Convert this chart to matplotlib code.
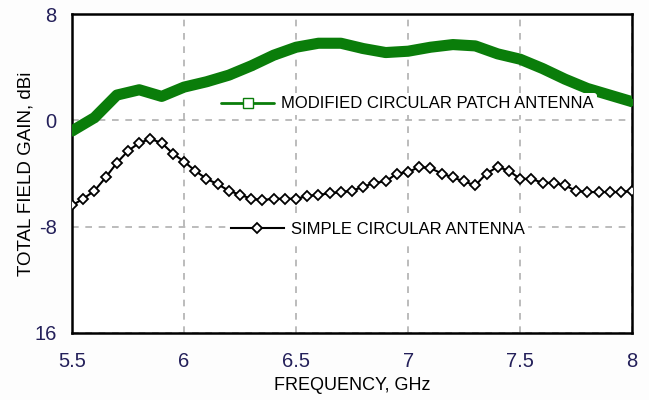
import matplotlib
matplotlib.use("Agg")
import matplotlib.pyplot as plt

plt.rcParams["font.family"] = ["Liberation Sans", "DejaVu Sans"]

# Modified circular patch antenna (green, squares)
freq_mod = [5.5, 5.6, 5.7, 5.8, 5.9, 6.0, 6.1, 6.2, 6.3, 6.4, 6.5, 6.6, 6.7,
            6.8, 6.9, 7.0, 7.1, 7.2, 7.3, 7.4, 7.5, 7.6, 7.7, 7.8, 7.9, 8.0]
gain_mod = [-0.8, 0.2, 1.9, 2.3, 1.8, 2.5, 2.9, 3.4, 4.1, 4.9, 5.5, 5.8, 5.8,
            5.4, 5.1, 5.2, 5.5, 5.7, 5.6, 5.0, 4.6, 3.9, 3.1, 2.4, 1.9, 1.4]

# Simple circular antenna (black, diamonds), one point every 0.05 GHz
freq_simple = [5.50, 5.55, 5.60, 5.65, 5.70, 5.75, 5.80, 5.85, 5.90, 5.95,
               6.00, 6.05, 6.10, 6.15, 6.20, 6.25, 6.30, 6.35, 6.40, 6.45,
               6.50, 6.55, 6.60, 6.65, 6.70, 6.75, 6.80, 6.85, 6.90, 6.95,
               7.00, 7.05, 7.10, 7.15, 7.20, 7.25, 7.30, 7.35, 7.40, 7.45,
               7.50, 7.55, 7.60, 7.65, 7.70, 7.75, 7.80, 7.85, 7.90, 7.95,
               8.00]
gain_simple = [-6.4, -5.9, -5.3, -4.3, -3.2, -2.3, -1.7, -1.4, -1.7, -2.5,
               -3.1, -3.8, -4.4, -4.8, -5.3, -5.6, -5.9, -6.0, -5.9, -5.9,
               -5.9, -5.7, -5.6, -5.5, -5.4, -5.3, -5.0, -4.7, -4.6, -4.0,
               -3.9, -3.5, -3.6, -4.0, -4.3, -4.6, -4.9, -4.0, -3.5, -3.8,
               -4.4, -4.4, -4.7, -4.7, -4.9, -5.3, -5.4, -5.4, -5.4, -5.4,
               -5.3]

x_ticks = [5.5, 6, 6.5, 7, 7.5, 8]
x_tick_labels = ["5.5", "6", "6.5", "7", "7.5", "8"]
y_ticks = [-16, -8, 0, 8]
y_tick_labels = ["16", "-8", "0", "8"]

green = "#0a7d0a"
tick_color = "#24205a"

fig = plt.figure(figsize=(6.49, 4.0), dpi=100, facecolor="#fdfdfd")
ax = fig.add_axes([0.111, 0.1675, 0.863, 0.7975])
ax.set_facecolor("white")

line_mod, = ax.plot(freq_mod, gain_mod, color=green, lw=8, marker="s",
                    markersize=5, markerfacecolor=green, markeredgecolor=green,
                    solid_capstyle="round", solid_joinstyle="round", zorder=3)
line_simple, = ax.plot(freq_simple, gain_simple, color="black", lw=1.5,
                       marker="D", markersize=5.5, markerfacecolor="white",
                       markeredgecolor="black", markeredgewidth=1.3, zorder=4)

ax.set_xlim(5.5, 8)
ax.set_ylim(-16, 8)
ax.set_xticks(x_ticks)
ax.set_xticklabels(x_tick_labels)
ax.set_yticks(y_ticks)
ax.set_yticklabels(y_tick_labels)
ax.tick_params(length=0, labelsize=14.5, labelcolor=tick_color)
ax.tick_params(axis="x", pad=14)
ax.tick_params(axis="y", pad=11)

ax.grid(True, color="#b0b0b0", linestyle=(0, (4, 4)), lw=1.2)
for s in ax.spines.values():
    s.set_linewidth(1.8)

ax.set_xlabel("FREQUENCY, GHz", fontsize=13, labelpad=4)
ax.set_ylabel("TOTAL FIELD GAIN, dBi", fontsize=13.5, labelpad=0)

# legend-style labels, each placed next to its own curve
leg_kw = dict(frameon=True, framealpha=1, edgecolor="none", facecolor="white",
              fontsize=12, handlelength=3.2, borderpad=0.2, handletextpad=0.4)
leg1 = ax.legend([line_mod], ["MODIFIED CIRCULAR PATCH ANTENNA"],
                 loc="center left", bbox_to_anchor=(0.245, 0.718), **leg_kw)
leg1.legend_handles[0].set_linewidth(2)
leg1.legend_handles[0].set_markersize(7)
leg1.legend_handles[0].set_markerfacecolor("white")
ax.add_artist(leg1)
leg2 = ax.legend([line_simple], ["SIMPLE CIRCULAR ANTENNA"],
                 loc="center left", bbox_to_anchor=(0.2625, 0.325), **leg_kw)

fig.savefig("out.png", dpi=100, facecolor=fig.get_facecolor())
